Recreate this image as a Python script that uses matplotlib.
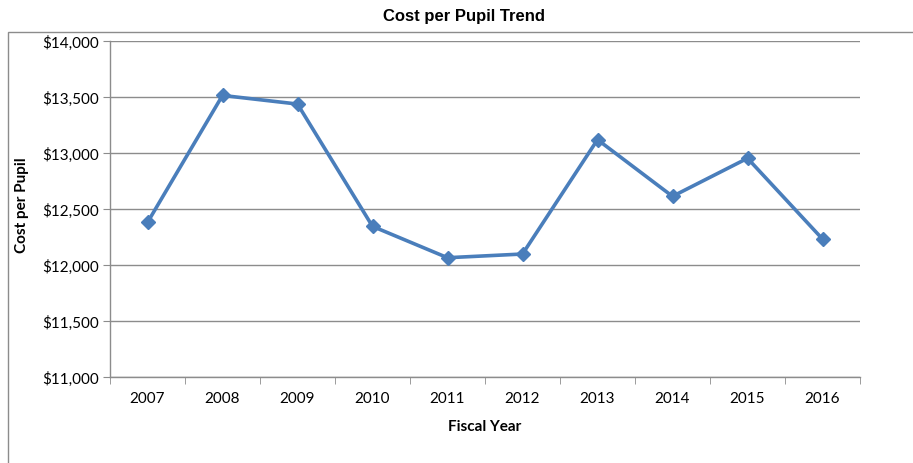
import matplotlib
matplotlib.use("Agg")
import matplotlib.pyplot as plt
from matplotlib.patches import Rectangle
from matplotlib.ticker import FuncFormatter, FixedLocator

years = ["2007", "2008", "2009", "2010", "2011", "2012", "2013", "2014", "2015", "2016"]
cost = [12380, 13514, 13437, 12345, 12065, 12098, 13119, 12613, 12953, 12232]
y_ticks = [11000, 11500, 12000, 12500, 13000, 13500, 14000]

plt.rcParams['font.family'] = ['Lato', 'DejaVu Sans']

fig = plt.figure(figsize=(9.13, 4.64), dpi=100)
fig.patch.set_facecolor("white")

# outer chart border
fig.patches.append(Rectangle((8/913, -0.05), 1.0, (464-33)/464 + 0.05, transform=fig.transFigure,
                             fill=False, edgecolor="#8c8c8c", linewidth=1.0))

ax = fig.add_axes([110/913, (464-378)/464, (860-110)/913, (378-42)/464])
x = list(range(len(years)))
ax.plot(x, cost, color="#4a7ebb", linewidth=2.6, marker="D", markersize=7,
        markerfacecolor="#4a7ebb", markeredgecolor="#4a7ebb", zorder=3)

ax.set_xlim(-0.5, len(years) - 0.5)
ax.set_ylim(11000, 14000)
ax.set_yticks(y_ticks)
ax.yaxis.set_major_formatter(FuncFormatter(lambda v, p: "${:,.0f}".format(v)))
ax.grid(axis="y", color="#8c8c8c", linewidth=1.0)
ax.set_axisbelow(True)

ax.set_xticks(x)
ax.set_xticklabels(years)
ax.xaxis.set_minor_locator(FixedLocator([i - 0.5 for i in range(len(years) + 1)]))
ax.tick_params(axis="x", which="major", length=0, pad=10, labelsize=11, colors="black")
ax.tick_params(axis="x", which="minor", length=5, color="#8c8c8c", direction="out")
ax.tick_params(axis="y", which="major", length=5, color="#8c8c8c", labelsize=11, pad=3)

for s in ["top", "right"]:
    ax.spines[s].set_visible(False)
for s in ["left", "bottom"]:
    ax.spines[s].set_color("#8c8c8c")
    ax.spines[s].set_linewidth(1.0)

fig.text(464/913, 1 - 17/464, "Cost per Pupil Trend", ha="center", va="center",
         fontsize=12, fontweight="bold", family=["Liberation Sans Narrow", "Liberation Sans", "DejaVu Sans"])
fig.text(485/913, 1 - 427/464, "Fiscal Year", ha="center", va="center", fontsize=11, fontweight="bold")
fig.text(22/913, 1 - 205/464, "Cost per Pupil", ha="center", va="center", rotation=90,
         fontsize=11, fontweight="bold")

fig.savefig("out.png", dpi=100, facecolor="white")
